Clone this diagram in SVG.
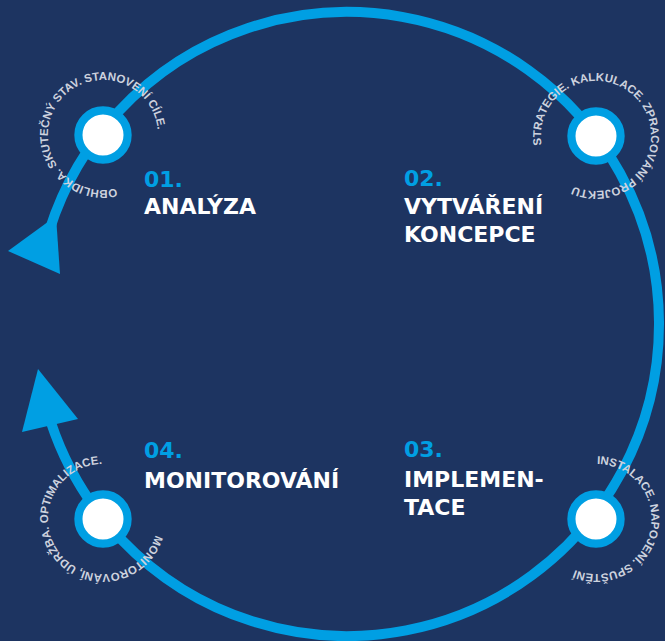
<svg xmlns="http://www.w3.org/2000/svg" width="665" height="641" viewBox="0 0 665 641">
  <style>
    .bg { fill: #1d3461; }
    .ring { fill: none; stroke: #009fe3; stroke-width: 10; }
    .head { fill: #009fe3; }
    .dot { fill: #ffffff; stroke: #009fe3; stroke-width: 8.2; }
    .num { font-family: "DejaVu Sans", "Liberation Sans", sans-serif; font-weight: bold; font-size: 22px; fill: #009fe3; }
    .title { font-family: "DejaVu Sans", "Liberation Sans", sans-serif; font-weight: bold; font-size: 22px; fill: #ffffff; }
    .arc { font-family: "Liberation Sans", Arial, sans-serif; font-weight: bold; font-size: 11.5px; fill: #cdd2de; }
  </style>
  <defs>
    <path id="p1" d="M116.31,188.37 A55,55 0 1,1 89.69,81.63 A55,55 0 1,1 116.31,188.37"/>
    <path id="p2" d="M541.75,145.08 A55,55 0 1,1 650.25,126.92 A55,55 0 1,1 541.75,145.08"/>
    <path id="p3" d="M596.96,464.01 A55,55 0 1,1 595.04,573.99 A55,55 0 1,1 596.96,464.01"/>
    <path id="p4" d="M155.60,535.08 A55,55 0 1,1 50.40,502.92 A55,55 0 1,1 155.60,535.08"/>
  </defs>
  <rect class="bg" x="0" y="0" width="665" height="641"/>
  <g id="connectors">
    <path class="ring" d="M50.8,422 A312,312 0 1,0 49.5,230"/>
    <polygon class="head" points="56,216 60,274 8,251"/>
    <polygon class="head" points="38,369 78,419 22,432"/>
  </g>
  <g id="step1">
    <circle class="dot" cx="103" cy="135" r="24.6"/>
    <text class="arc"><textPath href="#p1">OBHLIDKA. SKUTEČNÝ STAV. STANOVENÍ CÍLE.</textPath></text>
    <text class="num" x="144" y="187">01.</text>
    <text class="title" x="144" y="214">ANALÝZA</text>
  </g>
  <g id="step2">
    <circle class="dot" cx="596" cy="136" r="24.6"/>
    <text class="arc"><textPath href="#p2">STRATEGIE. KALKULACE. ZPRACOVÁNÍ PROJEKTU</textPath></text>
    <text class="num" x="404" y="186">02.</text>
    <text class="title" x="404" y="214">VYTVÁŘENÍ</text>
    <text class="title" x="404" y="242">KONCEPCE</text>
  </g>
  <g id="step3">
    <circle class="dot" cx="596" cy="519" r="24.6"/>
    <text class="arc"><textPath href="#p3">INSTALACE. NAPOJENÍ. SPUŠTĚNÍ</textPath></text>
    <text class="num" x="404" y="457">03.</text>
    <text class="title" x="404" y="487">IMPLEMEN-</text>
    <text class="title" x="404" y="515">TACE</text>
  </g>
  <g id="step4">
    <circle class="dot" cx="103" cy="519" r="24.6"/>
    <text class="arc"><textPath href="#p4">MONITOROVÁNÍ, ÚDRŽBA. OPTIMALIZACE.</textPath></text>
    <text class="num" x="144" y="458">04.</text>
    <text class="title" x="144" y="488">MONITOROVÁNÍ</text>
  </g>
</svg>
